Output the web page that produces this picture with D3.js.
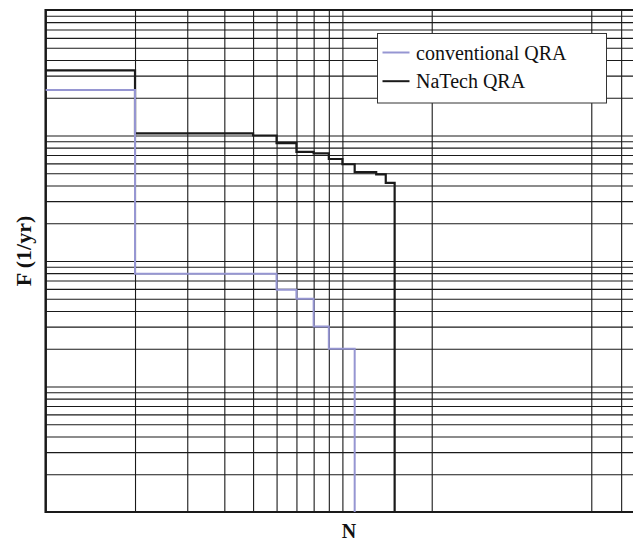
<!DOCTYPE html>
<html>
<head>
<meta charset="utf-8">
<script src="https://cdn.jsdelivr.net/npm/d3@7"></script>
<style>
  body { margin: 0; background: #fff; }
  text { font-family: "Liberation Serif", "Times New Roman", serif; }
</style>
</head>
<body>
<div id="chart"></div>
<script>
// F-N curves
var nConv = [1, 2, 6, 7, 8, 9, 11];
var fConv = [2.3e-4, 7.9e-6, 5.9e-6, 5.0e-6, 3.0e-6, 2.0e-6, 1e-7];

var nNatech = [1, 2, 5, 6, 7, 8, 9, 10, 11, 13, 14, 15];
var fNatech = [3.3e-4, 1.04e-4, 1.0e-4, 8.7e-5, 7.4e-5, 7.2e-5, 6.5e-5, 5.9e-5, 5.1e-5, 4.9e-5, 4.2e-5, 1e-7];

var xGrid = [2, 3, 4, 5, 6, 7, 8, 9, 10, 20, 69, 87];
var yDecades = [1e-7, 1e-6, 1e-5, 1e-4];

var seriesNames = ["conventional QRA", "NaTech QRA"];
var seriesColors = ["#9696d2", "#1a1a1a"];

var width = 633, height = 543;
var svg = d3.select("#chart")
    .append("svg")
    .attr("width", width)
    .attr("height", height);

var x = d3.scaleLog().domain([1, 100]).range([45.7, 639.1]);
var y = d3.scaleLog().domain([1e-7, 1e-3]).range([512, 10]);

// horizontal grid: 1..9 in every decade
var yGrid = [];
yDecades.forEach(function(d) {
  for (var k = 1; k <= 9; k++) yGrid.push(d * k);
});
yGrid.push(1e-3);

svg.append("g")
    .attr("class", "ygrid")
    .attr("transform", "translate(" + x(1) + ",0)")
    .call(d3.axisLeft(y).tickValues(yGrid).tickSize(-(x(100) - x(1))).tickFormat(""))
    .call(function(g) { g.select(".domain").remove(); })
    .selectAll("line")
    .attr("stroke", "#1a1a1a")
    .attr("stroke-width", 1.1);

svg.append("g")
    .attr("class", "xgrid")
    .attr("transform", "translate(0," + y(1e-7) + ")")
    .call(d3.axisBottom(x).tickValues(xGrid).tickSize(-(y(1e-7) - y(1e-3))).tickFormat(""))
    .call(function(g) { g.select(".domain").remove(); })
    .selectAll("line")
    .attr("stroke", "#1a1a1a")
    .attr("stroke-width", 1.1);

// frame
svg.append("line")
    .attr("x1", x(1)).attr("x2", x(100))
    .attr("y1", y(1e-3)).attr("y2", y(1e-3))
    .attr("stroke", "#1a1a1a").attr("stroke-width", 2);
svg.append("line")
    .attr("x1", x(1)).attr("x2", x(100))
    .attr("y1", y(1e-7)).attr("y2", y(1e-7))
    .attr("stroke", "#1a1a1a").attr("stroke-width", 2);
svg.append("line")
    .attr("x1", x(1)).attr("x2", x(1))
    .attr("y1", y(1e-3) - 1).attr("y2", y(1e-7) + 1)
    .attr("stroke", "#1a1a1a").attr("stroke-width", 2.5);

var line = d3.line()
    .x(function(d) { return x(d[0]); })
    .y(function(d) { return y(d[1]); })
    .curve(d3.curveStepAfter);

svg.append("path")
    .datum(d3.zip(nNatech, fNatech))
    .attr("d", line)
    .attr("fill", "none")
    .attr("stroke", seriesColors[1])
    .attr("stroke-width", 2.2);

svg.append("path")
    .datum(d3.zip(nConv, fConv))
    .attr("d", line)
    .attr("fill", "none")
    .attr("stroke", seriesColors[0])
    .attr("stroke-width", 2);

// legend
var lg = svg.append("g").attr("transform", "translate(377.5,33.5)");
lg.append("rect")
    .attr("width", 229).attr("height", 69.5)
    .attr("fill", "#fff").attr("stroke", "#333").attr("stroke-width", 1);
seriesNames.forEach(function(name, i) {
  lg.append("line")
      .attr("x1", 5).attr("x2", 32)
      .attr("y1", 19 + i * 28.7).attr("y2", 19 + i * 28.7)
      .attr("stroke", seriesColors[i]).attr("stroke-width", 2);
  lg.append("text")
      .attr("x", 38.5).attr("y", 26 + i * 28)
      .attr("font-size", 20)
      .attr("fill", "#111")
      .text(name);
});

// axis titles
svg.append("text")
    .attr("x", 349).attr("y", 538)
    .attr("text-anchor", "middle")
    .attr("font-size", 20).attr("font-weight", "bold")
    .attr("fill", "#111")
    .text("N");

svg.append("text")
    .attr("transform", "translate(31,251) rotate(-90)")
    .attr("text-anchor", "middle")
    .attr("font-size", 22).attr("font-weight", "bold")
    .attr("fill", "#111")
    .text("F (1/yr)");
</script>
</body>
</html>
